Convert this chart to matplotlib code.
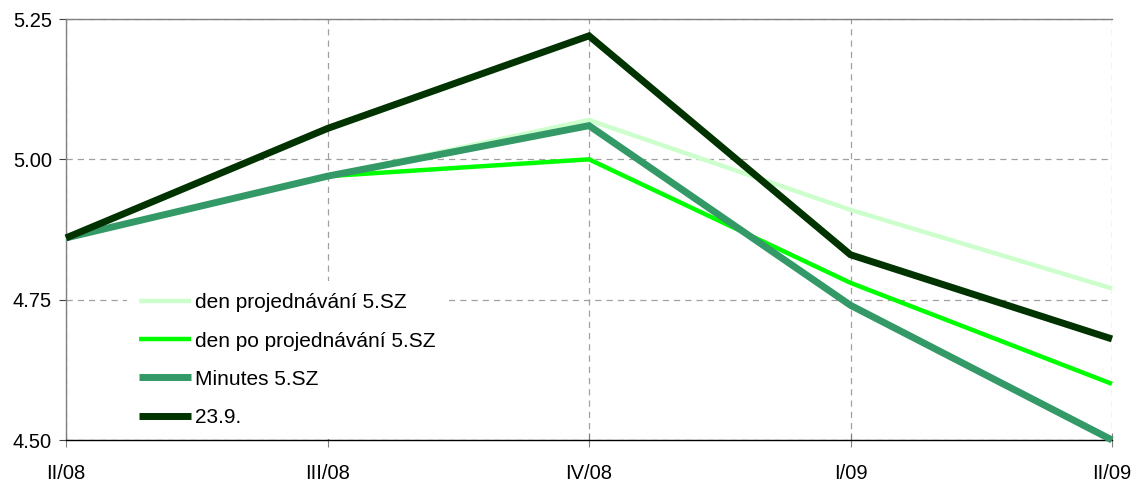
import matplotlib.pyplot as plt

# data
quarters = ['II/08', 'III/08', 'IV/08', 'I/09', 'II/09']
den_proj = [4.86, 4.97, 5.07, 4.91, 4.77]
den_po_proj = [4.86, 4.97, 5.00, 4.78, 4.60]
minutes = [4.86, 4.97, 5.06, 4.74, 4.50]
sept23 = [4.86, 5.055, 5.22, 4.83, 4.68]

labels = ['den projednávání 5.SZ', 'den po projednávání 5.SZ', 'Minutes 5.SZ', '23.9.']
colors = ['#ccffcc', '#00ff00', '#339966', '#003300']
widths = [3.2, 3.2, 5.0, 5.0]

plt.rcParams['font.family'] = ['Liberation Sans', 'DejaVu Sans']

fig = plt.figure(figsize=(11.39, 4.83), dpi=100)
ax = fig.add_axes([66 / 1139, 43 / 483, 1046 / 1139, 421 / 483])

x = list(range(len(quarters)))
for ys, lab, c, w in zip([den_proj, den_po_proj, minutes, sept23], labels, colors, widths):
    ax.plot(x, ys, color=c, lw=w, label=lab, clip_on=False, solid_capstyle='butt',
            solid_joinstyle='miter', zorder=3)

ax.set_xlim(0, 4)
ax.set_ylim(4.5, 5.25)
ax.set_xticks(x)
ax.set_xticklabels(quarters)
ax.set_yticks([4.50, 4.75, 5.00, 5.25])
ax.set_yticklabels(['4.50', '4.75', '5.00', '5.25'])

ax.grid(True, color='#a0a0a0', linestyle=(0, (5, 4)), linewidth=0.9, zorder=0)
ax.set_axisbelow(True)

ax.spines['right'].set_visible(False)
ax.spines['top'].set_color('#808080')
ax.spines['left'].set_color('#808080')
ax.spines['bottom'].set_color('black')
for s in ax.spines.values():
    s.set_linewidth(1.0)

ax.tick_params(axis='x', direction='inout', length=10, pad=12, labelsize=14.5, color='#808080')
ax.tick_params(axis='y', direction='out', length=5, pad=5, labelsize=14.5, color='#404040')

leg = ax.legend(loc='upper left', bbox_to_anchor=(0.058, 0.378), frameon=True, fontsize=15,
                handlelength=2.5, handletextpad=0.2, labelspacing=0.92, borderpad=0.6,
                borderaxespad=0, fancybox=False)
leg.get_frame().set_facecolor('white')
leg.get_frame().set_edgecolor('none')
leg.get_frame().set_alpha(1)
leg.set_zorder(2)

fig.savefig('out.png', dpi=100)
